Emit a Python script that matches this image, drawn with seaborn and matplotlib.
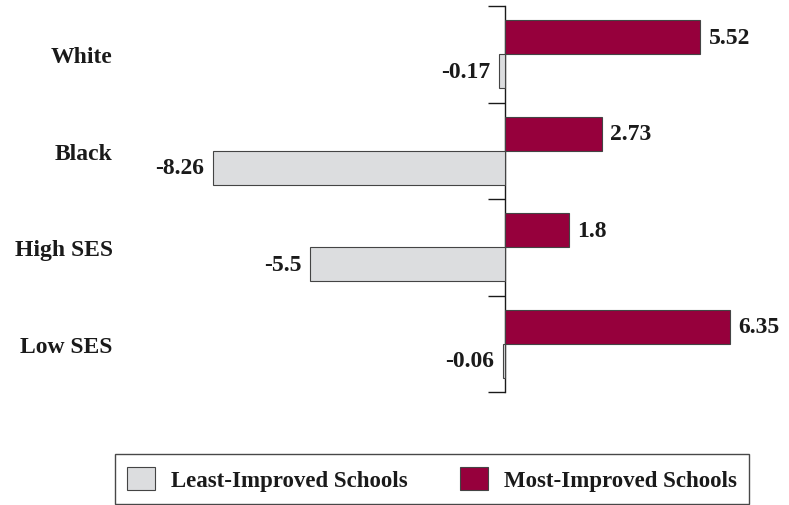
import matplotlib
matplotlib.use("Agg")
import matplotlib.pyplot as plt
import seaborn as sns
import pandas as pd
from matplotlib.patches import Patch

# Change in score by student group
groups = ["White", "Black", "High SES", "Low SES"]
most_improved = [5.52, 2.73, 1.8, 6.35]
least_improved = [-0.17, -8.26, -5.5, -0.06]
most_labels = ["5.52", "2.73", "1.8", "6.35"]
least_labels = ["-0.17", "-8.26", "-5.5", "-0.06"]
series_names = ["Most-Improved Schools", "Least-Improved Schools"]

MAROON = "#96003c"
LIGHT = "#dcdddf"
EDGE = "#444444"
INK = "#1a1a1a"

df = pd.DataFrame({
    "group": groups * 2,
    "value": most_improved + least_improved,
    "series": [series_names[0]] * len(groups) + [series_names[1]] * len(groups),
})

sns.set_theme(style="white")
plt.rcParams["font.family"] = ["Liberation Serif", "DejaVu Serif"]
plt.rcParams["font.weight"] = "bold"

W, H = 789, 506
fig = plt.figure(figsize=(W / 100, H / 100), dpi=100)
ax_left, ax_right, ax_top, ax_bot = 125, 780, 7, 393
ax = fig.add_axes([ax_left / W, 1 - ax_bot / H, (ax_right - ax_left) / W, (ax_bot - ax_top) / H])

sns.barplot(
    data=df, y="group", x="value", hue="series", order=groups,
    hue_order=series_names, palette=[MAROON, LIGHT], orient="h",
    width=0.7, edgecolor=EDGE, linewidth=0.8, saturation=1, ax=ax, legend=False,
)

px_per_unit = 35.4
zero_px = 505
xmin = -(zero_px - ax_left) / px_per_unit
xmax = (ax_right - zero_px) / px_per_unit
ax.set_xlim(xmin, xmax)
ax.set_ylim(len(groups) - 0.5, -0.5)

for s in ax.spines.values():
    s.set_visible(False)
ax.set_xticks([])
ax.set_xlabel("")
ax.set_ylabel("")
ax.tick_params(axis="y", length=0, pad=9, labelsize=17)
for lab in ax.get_yticklabels():
    lab.set_fontweight("bold")
    lab.set_color(INK)

# Zero line with ticks between groups
zero_frac = (0 - xmin) / (xmax - xmin)
sec = ax.secondary_yaxis(zero_frac)
sec.set_yticks([i - 0.5 for i in range(len(groups) + 1)])
sec.set_yticklabels([])
sec.tick_params(axis="y", length=12, width=1.0, color=INK, direction="in")
for s in sec.spines.values():
    s.set_color(INK)
    s.set_linewidth(1.0)

# Value labels
for cont, labels in zip(ax.containers, [most_labels, least_labels]):
    ax.bar_label(cont, labels=labels, padding=6, fontsize=17, fontweight="bold", color=INK)

handles = [
    Patch(facecolor=LIGHT, edgecolor=EDGE, linewidth=0.8, label="Least-Improved Schools"),
    Patch(facecolor=MAROON, edgecolor=EDGE, linewidth=0.8, label="Most-Improved Schools"),
]
leg = fig.legend(
    handles=handles, loc="center", bbox_to_anchor=(432 / W, 1 - 480 / H), ncol=2,
    frameon=True, fancybox=False, edgecolor=INK,
    handlelength=1.2, handleheight=1.2, columnspacing=2.3, borderpad=0.55,
    handletextpad=0.7, borderaxespad=0, prop={"weight": "bold", "size": 16.5},
)
leg.get_frame().set_linewidth(1.0)
for t in leg.get_texts():
    t.set_color(INK)

fig.savefig("out.png", dpi=100)
